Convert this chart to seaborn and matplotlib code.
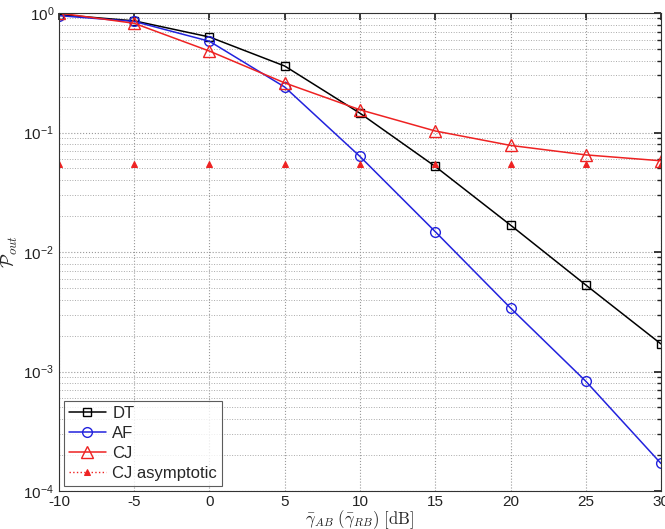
import numpy as np
import pandas as pd
import matplotlib
matplotlib.use("Agg")
import matplotlib.pyplot as plt
import seaborn as sns
from matplotlib.ticker import LogLocator, NullFormatter

snr = [-10, -5, 0, 5, 10, 15, 20, 25, 30]
dt = [0.97, 0.86, 0.63, 0.36, 0.145, 0.052, 0.0168, 0.0053, 0.0017]
af = [0.95, 0.85, 0.58, 0.24, 0.063, 0.0148, 0.0034, 0.00083, 0.00017]
cj = [1.0, 0.82, 0.48, 0.26, 0.155, 0.103, 0.078, 0.065, 0.058]
cj_asym = [0.054] * 9

sns.set_theme(style="white")
plt.rcParams['font.family'] = ['Liberation Sans', 'DejaVu Sans']
plt.rcParams['mathtext.fontset'] = 'cm'
plt.rcParams['axes.unicode_minus'] = False

fig = plt.figure(figsize=(6.65, 5.29), dpi=100)
ax = fig.add_axes([0.0887, 0.0718, 0.9053, 0.9036])

df = pd.DataFrame({"snr": snr, "DT": dt, "AF": af, "CJ": cj, "CJ asymptotic": cj_asym})

sns.lineplot(data=df, x="snr", y="DT", ax=ax, color="black", marker="s", markersize=6,
             markerfacecolor="none", markeredgecolor="black", markeredgewidth=1.0,
             linewidth=1.1, label="DT")
sns.lineplot(data=df, x="snr", y="AF", ax=ax, color="#2222dd", marker="o", markersize=7,
             markerfacecolor="none", markeredgecolor="#2222dd", markeredgewidth=1.0,
             linewidth=1.1, label="AF")
sns.lineplot(data=df, x="snr", y="CJ", ax=ax, color="#ee2222", marker="^", markersize=8,
             markerfacecolor="none", markeredgecolor="#ee2222", markeredgewidth=1.0,
             linewidth=1.1, label="CJ")
sns.lineplot(data=df, x="snr", y="CJ asymptotic", ax=ax, color="#ee2222", marker="^",
             markersize=5, markerfacecolor="#ee2222", markeredgecolor="#ee2222",
             linestyle="none", label="CJ asymptotic")

ax.set_yscale("log")
ax.set_xlim(-10, 30)
ax.set_ylim(1e-4, 1)
ax.set_xticks([-10, -5, 0, 5, 10, 15, 20, 25, 30])
ax.yaxis.set_major_locator(LogLocator(base=10, numticks=10))
ax.yaxis.set_minor_locator(LogLocator(base=10, subs=np.arange(2, 10), numticks=20))
ax.yaxis.set_minor_formatter(NullFormatter())

ax.grid(True, which="major", linestyle=":", color="#999999", linewidth=0.8)
ax.grid(True, which="minor", axis="y", linestyle=":", color="#aaaaaa", linewidth=0.7)
for s in ax.spines.values():
    s.set_color("#333333")
    s.set_linewidth(0.8)
ax.tick_params(which="both", direction="in", top=True, right=True, labelsize=11, colors="#222222")
ax.tick_params(which="major", length=5)
ax.tick_params(which="minor", length=3)
ax.tick_params(axis="x", pad=3)

ax.set_xlabel(r"$\bar{\gamma}_{AB}\ (\bar{\gamma}_{RB})\ [\mathrm{dB}]$", fontsize=12, labelpad=-1)
ax.set_ylabel(r"$\mathcal{P}_{out}$", fontsize=13, labelpad=2)

leg = ax.legend(loc="lower left", fontsize=12, frameon=True, fancybox=False,
                edgecolor="#333333", borderaxespad=0.3, handlelength=2.2,
                labelspacing=0.3, borderpad=0.3, handletextpad=0.4)
leg.get_frame().set_linewidth(0.8)
hl = leg.legend_handles if hasattr(leg, "legend_handles") else leg.legendHandles
hl[3].set_linestyle(":")
hl[3].set_linewidth(1.0)

fig.savefig("out.png", dpi=100)
